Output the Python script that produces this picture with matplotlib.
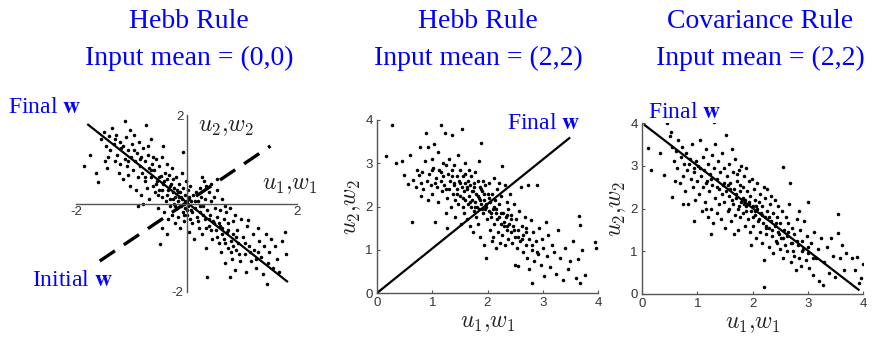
import matplotlib
matplotlib.use("Agg")
import numpy as np
import matplotlib.pyplot as plt

# panel 1: Hebb rule, input mean (0,0)
p1_x = [-1.86, -1.74, -1.63, -1.60, -1.55, -1.50, -1.45, -1.43, -1.42, -1.40, -1.38, -1.47,
        -1.35, -1.32, -1.30, -1.28, -1.25, -1.22, -1.20, -1.18, -1.15, -1.12, -1.12, -1.10, -1.08, -1.05, -1.03, -1.02, -1.00, -1.20, -1.30, -1.06,
        -0.98, -0.96, -0.95, -0.93, -0.92, -0.90, -0.88, -0.86, -0.85, -0.83, -0.82, -0.80, -0.78, -0.76, -0.75, -0.73, -0.72, -0.70, -0.68, -0.67, -0.65, -0.64, -0.62, -0.61, -0.60, -0.88, -0.78, -0.70,
        -0.58, -0.57, -0.55, -0.54, -0.52, -0.50, -0.49, -0.48, -0.47, -0.45, -0.44, -0.43, -0.42, -0.40, -0.39, -0.38, -0.36, -0.35, -0.34, -0.33, -0.31, -0.30, -0.29, -0.28, -0.27, -0.26, -0.25, -0.24, -0.23, -0.22, -0.21, -0.20, -0.45, -0.35, -0.52,
        -0.19, -0.18, -0.17, -0.16, -0.15, -0.14, -0.13, -0.12, -0.11, -0.10, -0.09, -0.08, -0.07, -0.07, -0.06, -0.05, -0.04, -0.03, -0.02, -0.01, 0.00, 0.01, 0.02, 0.03, 0.04, 0.05, 0.06, 0.07, 0.08, 0.09, 0.10, 0.12, 0.14, 0.16, 0.18, 0.19,
        0.21, 0.22, 0.24, 0.25, 0.27, 0.28, 0.30, 0.31, 0.33, 0.34, 0.36, 0.37, 0.38, 0.40, 0.41, 0.43, 0.45, 0.46, 0.48, 0.50, 0.52, 0.53, 0.55, 0.56, 0.58, 0.59, 0.35, 0.45, 0.55, 0.28,
        0.61, 0.62, 0.64, 0.65, 0.67, 0.68, 0.70, 0.72, 0.73, 0.75, 0.76, 0.78, 0.79, 0.80, 0.82, 0.84, 0.85, 0.87, 0.88, 0.90, 0.92, 0.94, 0.96, 0.98, 0.70,
        1.02, 1.05, 1.07, 1.10, 1.12, 1.14, 1.17, 1.20, 1.23, 1.26, 1.29, 1.32, 1.35, 1.38, 1.41, 1.44, 1.47, 1.30,
        1.50, 1.53, 1.56, 1.60, 1.64, 1.68, 1.72, 1.78, 1.80, 1.46,
        -1.15, -1.05, -0.95, -0.85, -0.75, -0.65, -0.55, -0.50, -0.45, -0.40, -0.35, -0.30, -0.25, -0.20, -0.15, -0.10, -0.05, 0.00, 0.05, 0.10,
        0.15, 0.20, 0.25, 0.30, 0.35, 0.40, 0.45, 0.50, 0.55, 0.60, 0.65, 0.70, 0.75, 0.80, 0.85, 0.90, 0.95, 1.05, 1.15, 1.25]
p1_y = [0.84, 1.10, 0.70, 0.48, 1.45, 1.62, 1.30, 0.80, 1.05, 1.52, 1.20, 0.95,
        1.70, 1.35, 0.95, 1.55, 1.10, 0.70, 1.40, 1.25, 0.55, 1.86, 1.00, 1.50, 0.85, 1.20, 1.65, 0.40, 1.05, 0.90, 1.45, 0.65,
        1.35, 0.75, 1.55, 0.95, 0.30, 1.15, 0.60, 1.40, 0.85, 1.05, 0.20, 0.70, 1.25, 0.50, 0.95, 1.77, 0.35, 1.10, 0.80, 0.10, 0.60, 1.45, 0.90, 0.40, 1.05, -0.05, 0.00, 1.30,
        0.75, 0.25, 1.00, 0.50, -0.10, 0.85, 0.30, -0.92, 0.62, 1.05, 0.15, 1.30, 0.45, -0.20, 0.70, 0.05, 0.55, 0.90, -0.35, 0.30, 0.65, 0.10, -0.05, 0.45, 0.80, -0.25, 0.25, 0.55, 0.00, 0.35, -0.45, 0.15, -0.55, -0.70, 0.20,
        0.60, -0.10, 0.30, 0.05, -0.30, 0.45, 0.15, -0.55, 0.25, -0.05, 0.70, 0.10, 1.16, -0.20, 0.35, 0.00, -0.40, 0.20, -0.10, 0.50, 0.05, -0.25, 0.30, -0.05, -0.65, 0.15, -0.35, 0.40, -0.15, 0.05, -0.45, 0.20, -0.80, -0.10, 0.25, -0.30,
        0.05, -0.55, 0.35, -0.20, 0.15, -0.70, -0.05, 0.50, -0.35, 0.10, -1.00, -1.66, -0.15, 0.25, -0.50, -0.25, 0.05, -0.80, -0.40, 0.15, -0.10, -0.60, -0.30, 0.30, -0.90, -0.45, 0.40, 0.45, 0.55, 0.60,
        -0.15, -1.10, -0.55, 0.10, -0.35, -0.80, -1.35, -0.20, -0.65, -1.00, -0.45, -1.67, -0.10, -0.85, -1.25, -0.40, -0.70, -1.50, -0.25, -1.05, -0.60, -0.90, -1.30, -0.35, -0.05,
        -0.75, -1.15, -1.55, -0.50, -0.37, -0.95, -1.30, -0.70, -1.05, -1.45, -0.55, -0.85, -1.20, -1.60, -0.95, -0.68, -1.35, -1.10,
        -1.10, -0.80, -1.45, -0.95, -1.25, -1.55, -0.85, -0.65, -1.13, -1.81,
        1.30, 0.95, 1.20, 1.00, 0.60, 0.75, 0.45, 0.60, 0.30, 0.50, 0.20, 0.40, 0.10, -0.05, 0.25, 0.15, -0.25, -0.15, 0.10, -0.20,
        0.05, -0.40, -0.05, -0.25, -0.55, -0.35, -0.60, -0.45, -0.75, -0.50, -0.70, -0.90, -0.60, -1.10, -0.95, -0.75, -1.15, -0.90, -1.10, -1.25]

# panel 2: Hebb rule, input mean (2,2)
p2_x = [0.16, 0.27, 0.35, 0.45, 0.48, 0.57, 0.60, 0.63, 0.66, 0.70, 0.73, 0.76, 0.78, 0.80, 0.80,
        0.82, 0.84, 0.86, 0.88, 0.90, 0.92, 0.93, 0.95, 0.97, 0.99, 1.00, 1.02, 1.04, 1.05, 1.06, 1.08, 1.10, 1.11, 1.13, 1.15, 1.16, 1.18, 1.19, 1.20, 1.00,
        1.22, 1.23, 1.24, 1.25, 1.27, 1.27, 1.28, 1.30, 1.31, 1.33, 1.34, 1.35, 1.36, 1.37, 1.39, 1.40, 1.41, 1.42, 1.44, 1.45, 1.46, 1.47, 1.48, 1.50, 1.51, 1.52, 1.53, 1.54, 1.55, 1.56, 1.57, 1.58, 1.59, 1.60, 1.60,
        1.62, 1.63, 1.64, 1.65, 1.66, 1.67, 1.68, 1.69, 1.70, 1.71, 1.72, 1.73, 1.74, 1.75, 1.76, 1.77, 1.78, 1.79, 1.80, 1.81, 1.82, 1.83, 1.84, 1.85, 1.86, 1.87, 1.88, 1.89, 1.90, 1.91, 1.92, 1.93, 1.94, 1.95, 1.96, 1.97, 1.98, 1.99, 2.00, 1.85,
        2.02, 2.03, 2.04, 2.05, 2.06, 2.08, 2.09, 2.10, 2.11, 2.12, 2.14, 2.15, 2.16, 2.18, 2.19, 2.20, 2.21, 2.22, 2.24, 2.25, 2.26, 2.27, 2.28, 2.30, 2.31, 2.32, 2.34, 2.35, 2.36, 2.37, 2.38, 2.39, 2.40, 2.20, 2.10,
        2.42, 2.43, 2.45, 2.46, 2.48, 2.49, 2.50, 2.51, 2.53, 2.55, 2.55, 2.57, 2.59, 2.60, 2.62, 2.64, 2.65, 2.67, 2.69, 2.70, 2.72, 2.74, 2.75, 2.76, 2.78, 2.80, 2.81, 2.83, 2.85, 2.88,
        2.90, 2.92, 2.94, 2.96, 2.98, 3.00, 3.02, 3.05, 3.08, 3.10, 3.13, 3.16, 3.20, 3.24, 3.28, 3.32, 3.36, 3.40, 3.45, 3.50, 3.55, 3.60, 3.64, 3.66, 3.67, 3.68, 3.71, 3.77, 3.94, 3.97,
        1.05, 1.15, 1.25, 1.35, 1.45, 1.50, 1.55, 1.62, 1.68, 1.72, 1.78, 1.82, 1.86, 1.90, 1.94, 1.98, 2.02, 2.06,
        2.12, 2.18, 2.24, 2.30, 2.36, 2.42, 2.48, 2.55, 2.62, 2.70, 2.80, 2.90, 1.40, 1.60, 1.75, 1.88, 2.15, 2.35]
p2_y = [3.16, 3.88, 3.00, 3.05, 2.72, 2.52, 3.20, 1.65, 2.62, 2.45, 2.85, 2.72, 3.38, 2.25, 2.55,
        2.80, 2.40, 3.05, 3.70, 2.60, 2.15, 3.38, 2.75, 2.50, 3.10, 2.30, 2.90, 3.45, 1.65, 2.65, 2.45, 3.25, 2.10, 2.85, 2.60, 3.88, 2.35, 3.00, 2.70, 2.85,
        2.50, 3.69, 1.85, 2.95, 1.50, 2.20, 2.75, 2.40, 3.10, 2.60, 2.00, 2.85, 3.65, 2.30, 2.55, 2.95, 1.75, 2.15, 2.70, 2.40, 3.20, 2.05, 2.60, 2.25, 2.85, 1.60, 2.45, 3.80, 2.00, 2.70, 2.35, 1.85, 2.55, 3.00, 2.15,
        2.40, 1.70, 2.60, 2.05, 2.85, 2.25, 1.55, 2.50, 2.00, 2.70, 2.15, 1.40, 2.35, 1.90, 2.55, 2.10, 2.80, 1.75, 2.30, 2.00, 2.60, 1.60, 2.20, 1.95, 2.45, 1.30, 2.05, 3.46, 2.35, 1.85, 2.60, 1.10, 2.15, 1.95, 2.50, 0.80, 2.05, 1.70, 2.30, 3.05,
        1.90, 2.55, 1.45, 2.10, 1.75, 2.30, 1.20, 1.95, 2.65, 1.60, 2.15, 1.05, 1.85, 2.40, 1.40, 1.75, 2.05, 1.15, 1.60, 2.25, 2.94, 1.35, 1.85, 1.55, 2.50, 1.10, 1.75, 1.45, 2.10, 1.25, 1.95, 1.60, 2.30, 2.55, 1.30,
        1.40, 1.80, 1.15, 1.55, 2.05, 1.30, 0.65, 1.70, 1.05, 0.63, 1.45, 1.90, 1.20, 2.45, 1.55, 0.95, 1.35, 1.75, 1.10, 1.50, 0.80, 2.50, 1.25, 0.55, 1.68, 1.00, 0.24, 1.40, 0.75, 1.20,
        2.50, 0.90, 1.50, 0.65, 1.25, 1.05, 0.40, 1.65, 0.85, 1.35, 0.60, 1.10, 0.95, 0.45, 1.45, 0.80, 0.30, 1.05, 0.55, 0.75, 1.20, 0.35, 0.78, 1.77, 1.57, 0.24, 0.99, 0.41, 1.19, 1.04,
        2.55, 2.80, 2.40, 2.70, 2.30, 2.55, 2.20, 2.45, 2.10, 2.35, 2.00, 2.25, 2.15, 1.95, 2.30, 2.00, 2.20, 1.85,
        2.00, 1.70, 1.85, 1.65, 1.55, 1.70, 1.45, 1.30, 1.25, 1.40, 1.10, 0.95, 2.50, 2.75, 2.45, 2.40, 1.95, 1.80]

# panel 3: covariance rule, input mean (2,2)
p3_x = [0.11, 0.17, 0.33, 0.39, 0.45, 0.50, 0.55, 0.55, 0.58, 0.60, 0.52,
        0.62, 0.64, 0.66, 0.68, 0.70, 0.72, 0.74, 0.76, 0.78, 0.80, 0.82, 0.84, 0.86, 0.88, 0.90, 0.92, 0.94, 0.96, 0.98, 1.00, 0.75, 0.95,
        1.02, 1.03, 1.05, 1.06, 1.08, 1.10, 1.11, 1.13, 1.14, 1.16, 1.17, 1.19, 1.20, 1.21, 1.23, 1.24, 1.26, 1.27, 1.29, 1.30, 1.30, 1.32, 1.33, 1.35, 1.36, 1.38, 1.39, 1.40, 1.25, 1.15,
        1.42, 1.43, 1.45, 1.46, 1.48, 1.49, 1.50, 1.52, 1.52, 1.54, 1.55, 1.57, 1.58, 1.60, 1.61, 1.62, 1.64, 1.65, 1.66, 1.68, 1.69, 1.70, 1.72, 1.73, 1.74, 1.76, 1.77, 1.78, 1.79, 1.80, 1.58, 1.66, 1.72, 1.48, 1.78,
        1.82, 1.83, 1.84, 1.86, 1.87, 1.88, 1.89, 1.90, 1.92, 1.93, 1.94, 1.95, 1.96, 1.98, 1.99, 2.00, 2.01, 2.02, 2.04, 2.05, 2.06, 2.08, 2.09, 2.10, 2.12, 2.13, 2.14, 2.16, 2.17, 2.18, 2.19, 2.20, 2.21, 2.20, 1.97,
        2.22, 2.23, 2.25, 2.26, 2.27, 2.29, 2.30, 2.31, 2.33, 2.34, 2.36, 2.37, 2.38, 2.40, 2.41, 2.43, 2.44, 2.46, 2.47, 2.49, 2.50, 2.52, 2.53, 2.55, 2.56, 2.57, 2.59, 2.60, 2.62, 2.63, 2.65, 2.66, 2.68, 2.69, 2.70,
        2.72, 2.74, 2.76, 2.78, 2.80, 2.82, 2.84, 2.86, 2.88, 2.90, 2.92, 2.94, 2.96, 2.98, 3.00, 3.00, 3.03, 3.06, 3.09, 3.12, 3.15, 3.18, 3.20, 2.85, 2.75,
        3.24, 3.28, 3.30, 3.34, 3.38, 3.42, 3.46, 3.50, 3.54, 3.55, 3.58, 3.62, 3.66, 3.70, 3.80, 3.85, 3.90, 3.97, 4.00, 3.93,
        0.85, 0.95, 1.05, 1.15, 1.25, 1.35, 1.45, 1.55, 1.62, 1.70, 1.76, 1.82, 1.88, 1.94, 2.00, 2.06, 2.12, 2.18,
        2.24, 2.30, 2.36, 2.42, 2.48, 2.56, 2.64, 2.72, 2.80, 2.90, 3.00, 3.10, 1.60, 1.85, 2.05, 2.25, 2.45]
p3_y = [3.41, 2.90, 3.29, 2.78, 4.00, 3.70, 2.26, 3.45, 3.10, 2.65, 3.80,
        3.35, 2.95, 3.60, 2.60, 3.20, 3.45, 2.75, 3.05, 2.40, 3.30, 2.90, 2.10, 3.15, 2.70, 3.50, 2.50, 2.95, 2.20, 3.10, 2.65, 2.10, 1.70,
        3.00, 2.35, 3.60, 2.75, 1.95, 3.20, 2.50, 2.90, 2.15, 3.40, 2.65, 1.80, 3.05, 2.40, 2.80, 2.00, 3.25, 2.55, 1.65, 4.03, 2.95, 2.25, 3.50, 2.70, 1.90, 3.10, 2.45, 2.10, 1.40, 2.00,
        2.85, 1.75, 3.30, 2.55, 2.15, 2.95, 1.55, 3.72, 2.40, 2.75, 1.95, 3.05, 2.30, 2.60, 1.70, 3.40, 2.10, 2.85, 2.45, 1.85, 3.15, 2.25, 2.65, 1.50, 2.00, 2.90, 2.40, 1.80, 3.00, 2.15, 2.00, 1.40, 2.80, 2.60, 2.55,
        2.50, 1.90, 2.75, 2.20, 1.60, 2.95, 2.05, 2.40, 1.75, 2.65, 2.10, 1.45, 2.30, 1.95, 2.70, 2.05, 1.60, 2.45, 1.85, 2.20, 1.30, 2.00, 2.60, 1.70, 2.15, 1.45, 2.35, 1.90, 1.20, 2.05, 1.65, 0.79, 0.17, 2.50, 1.15,
        1.80, 2.25, 1.40, 1.95, 2.45, 1.55, 1.10, 2.10, 1.70, 2.30, 1.35, 1.90, 0.95, 1.60, 2.20, 1.25, 1.80, 1.45, 2.05, 1.05, 1.65, 1.30, 1.95, 0.85, 2.96, 1.50, 1.15, 1.80, 1.35, 1.00, 1.65, 2.10, 2.59, 1.20, 0.75,
        1.55, 1.00, 1.40, 0.55, 1.75, 1.15, 0.85, 1.50, 0.65, 1.25, 1.05, 1.70, 0.80, 1.35, 2.16, 0.95, 0.60, 1.20, 0.45, 1.45, 0.85, 1.05, 0.30, 1.95, 0.90,
        1.30, 0.21, 0.75, 1.10, 0.50, 1.30, 0.90, 0.40, 1.87, 1.42, 0.85, 1.15, 0.55, 0.95, 0.85, 0.56, 0.87, 0.37, 0.71, 0.25,
        3.05, 2.85, 2.95, 2.60, 2.70, 2.50, 2.35, 2.55, 2.20, 2.35, 2.05, 2.25, 1.95, 2.15, 1.80, 2.05, 1.75, 1.85,
        1.60, 1.80, 1.50, 1.65, 1.40, 1.30, 1.45, 1.20, 1.25, 1.00, 1.10, 0.85, 2.45, 2.10, 1.95, 1.55, 1.20]

# weight vectors (start and end points of the drawn lines)
p1_final_w = ([-1.78, 1.82], [1.78, -1.76])
p1_initial_w = ([-1.57, 1.52], [-1.30, 1.30])
p2_final_w = ([0.0, 3.48], [0.0, 3.58])
p3_final_w = ([0.05, 3.92], [3.95, 0.10])

titles = ["Hebb Rule\nInput mean = (0,0)", "Hebb Rule\nInput mean = (2,2)",
          "Covariance Rule\nInput mean = (2,2)"]

blue = "#0000ff"
serif = "Liberation Serif"
plt.rcParams["mathtext.fontset"] = "cm"
plt.rcParams["font.family"] = "Liberation Sans"
plt.rcParams["axes.unicode_minus"] = False

fig = plt.figure(figsize=(8.72, 3.46), dpi=100)
W, H = 872.0, 346.0


def add_ax(left, top, right, bottom):
    return fig.add_axes([left / W, 1 - bottom / H, (right - left) / W, (bottom - top) / H])


def ftext(px, py, s, **kw):
    fig.text(px / W, 1 - py / H, s, **kw)


# titles
for cx, t in zip([189, 478, 760], titles):
    a, b = t.split("\n")
    ftext(cx, 22, a, ha="center", va="center", color=blue, family=serif, fontsize=20)
    ftext(cx, 58, b, ha="center", va="center", color=blue, family=serif, fontsize=20)

ann = dict(color=blue, family=serif, fontsize=17, math_fontfamily="stix", va="center", ha="left")
lab = dict(fontsize=17, color="#222222")
dot = dict(s=6.5, c="k", linewidths=0)

# ---- panel 1 ----
ax1 = add_ax(76, 115, 297, 292)
ax1.scatter(p1_x, p1_y, **dot)
ax1.plot(p1_final_w[0], p1_final_w[1], color="k", lw=1.6)
ax1.plot(p1_initial_w[0], p1_initial_w[1], color="k", lw=2.4, dashes=(5.5, 3.2))
ax1.set_xlim(-2, 2)
ax1.set_ylim(-2, 2)
for s in ["top", "right"]:
    ax1.spines[s].set_visible(False)
for s in ["left", "bottom"]:
    ax1.spines[s].set_position(("data", 0))
    ax1.spines[s].set_color("#555555")
    ax1.spines[s].set_linewidth(1.0)
ax1.set_xticks([-2, 2])
ax1.set_yticks([-2, 2])
ax1.tick_params(length=0, labelsize=9.5, labelcolor="#333333", pad=2)
ax1.patch.set_visible(False)
ax1.text(0.2, 1.72, r"$u_2{,}w_2$", ha="left", va="center", **lab)
ax1.text(1.36, 0.42, r"$u_1{,}w_1$", ha="left", va="center", **lab)
ftext(8, 108, r"Final $\mathbf{w}$", **ann)
ftext(32, 281, r"Initial $\mathbf{w}$", **ann)

# ---- panels 2 and 3 ----
ax2 = add_ax(377, 120, 598, 293)
ax3 = add_ax(642, 123, 863, 294)
for ax, xs, ys, fw in [(ax2, p2_x, p2_y, p2_final_w), (ax3, p3_x, p3_y, p3_final_w)]:
    ax.scatter(xs, ys, **dot)
    ax.plot(fw[0], fw[1], color="k", lw=1.6)
    ax.set_xlim(0, 4)
    ax.set_ylim(0, 4)
    ax.set_xticks(range(5))
    ax.set_yticks(range(5))
    for s in ["top", "right"]:
        ax.spines[s].set_visible(False)
    for s in ["left", "bottom"]:
        ax.spines[s].set_color("#555555")
        ax.spines[s].set_linewidth(1.0)
    ax.tick_params(direction="in", length=2.5, color="#555555", labelsize=9.5,
                   labelcolor="#333333", pad=3)
    ax.patch.set_visible(False)
    ax.set_xlabel(r"$u_1{,}w_1$", labelpad=2, **lab)
    ax.set_ylabel(r"$u_2{,}w_2$", labelpad=2, **lab)

ftext(507, 124, r"Final $\mathbf{w}$", **ann)
ftext(648, 112, r"Final $\mathbf{w}$", **ann)

fig.savefig("out.png", dpi=100)
